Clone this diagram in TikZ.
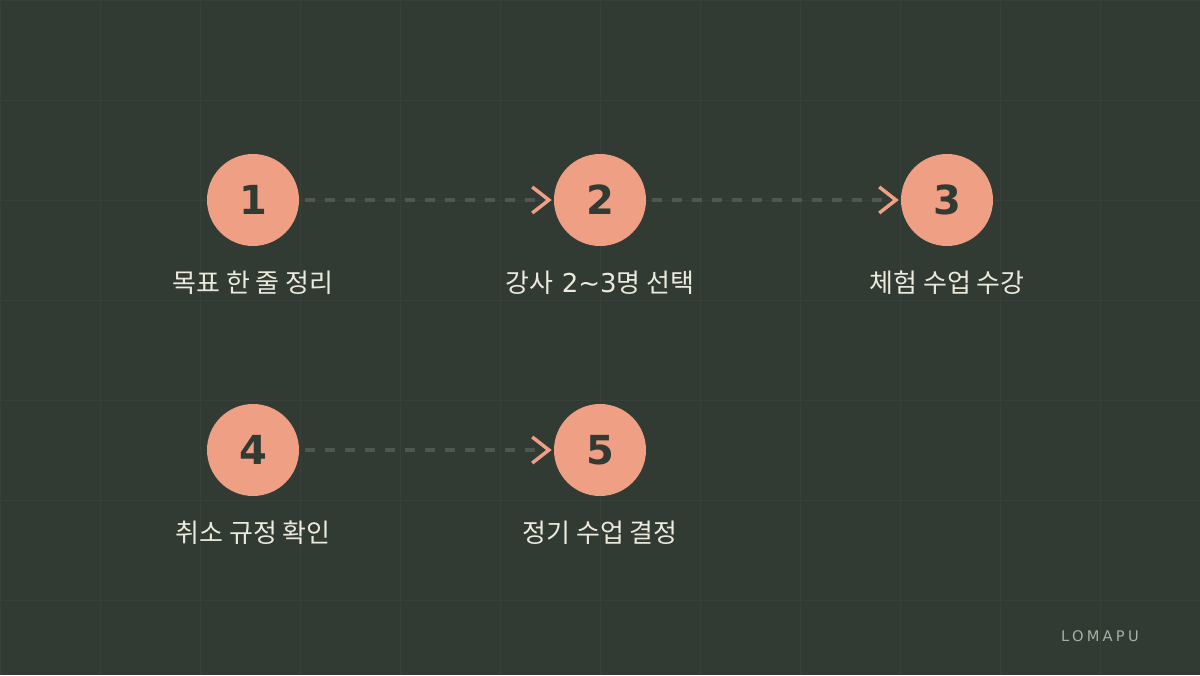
\documentclass[tikz,border=0pt]{standalone}
\usepackage{fontspec}
\setmainfont{DejaVu Sans}
\newfontfamily\krfont{Noto Sans CJK KR}
\newfontfamily\logofont[LetterSpace=22]{DejaVu Sans}
\usetikzlibrary{arrows.meta}

\definecolor{BgGreen}{HTML}{313A33}
\definecolor{GridGreen}{HTML}{384139}
\definecolor{DashGray}{HTML}{4E5850}
\definecolor{Salmon}{HTML}{EF9F84}
\definecolor{Cream}{HTML}{ECEADC}
\definecolor{LogoGray}{HTML}{A7B0A6}

\begin{document}
\begin{tikzpicture}[
    % Environment Config (1 unit = 1 px)
    x=0.75pt, y=-0.75pt,
    StepCircle/.style={% Style for the numbered circles
      circle,
      fill=Salmon,
      minimum size=69pt,
      inner sep=0pt,
      text=BgGreen,
      font=\fontsize{30}{30}\selectfont\bfseries
    },
    StepLabel/.style={% Style for the step texts
      anchor=base,
      text=Cream,
      inner sep=0pt,
      font=\fontsize{19.5}{21}\selectfont
    },
    FlowArrow/.style={% Style for the dashed connectors
      DashGray,
      line width=3pt,
      dash pattern=on 7.5pt off 7.5pt,
      shorten <= 4.5pt,
      shorten >= 1.5pt,
      -{Straight Barb[color=Salmon,length=12.5pt,width=19.5pt,line width=2.6pt]}
    }
  ]

  % Background and grid
  \fill[BgGreen] (0,0) rectangle (1200,675);
  \useasboundingbox (0,0) rectangle (1200,675);
  \foreach \gx in {0,100,...,1100}{
    \draw[GridGreen, line width=0.75pt] (\gx,0) -- (\gx,675);
  }
  \foreach \gy in {0,100,...,600}{
    \draw[GridGreen, line width=0.75pt] (0,\gy) -- (1200,\gy);
  }

  % Put the steps in position
  \node[StepCircle] (S1) at (253,200) {1};
  \node[StepCircle] (S2) at (600,200) {2};
  \node[StepCircle] (S3) at (947,200) {3};
  \node[StepCircle] (S4) at (253,450) {4};
  \node[StepCircle] (S5) at (600,450) {5};

  % Step texts
  \node[StepLabel] (L1) at (253,292) {\krfont 목표 한 줄 정리};
  \node[StepLabel] (L2) at (600,292) {{\krfont 강사} 2\textasciitilde3{\krfont 명 선택}};
  \node[StepLabel] (L3) at (947,292) {\krfont 체험 수업 수강};
  \node[StepLabel] (L4) at (253,542) {\krfont 취소 규정 확인};
  \node[StepLabel] (L5) at (600,542) {\krfont 정기 수업 결정};

  % Draw the connectors
  \draw[FlowArrow] (S1) -- (S2);
  \draw[FlowArrow] (S2) -- (S3);
  \draw[FlowArrow] (S4) -- (S5);

  % Brand mark
  \node[anchor=base east, inner sep=0pt, text=LogoGray,
    font=\logofont\fontsize{11}{12}\selectfont] (Logo) at (1139,641) {LOMAPU};

\end{tikzpicture}
\end{document}
